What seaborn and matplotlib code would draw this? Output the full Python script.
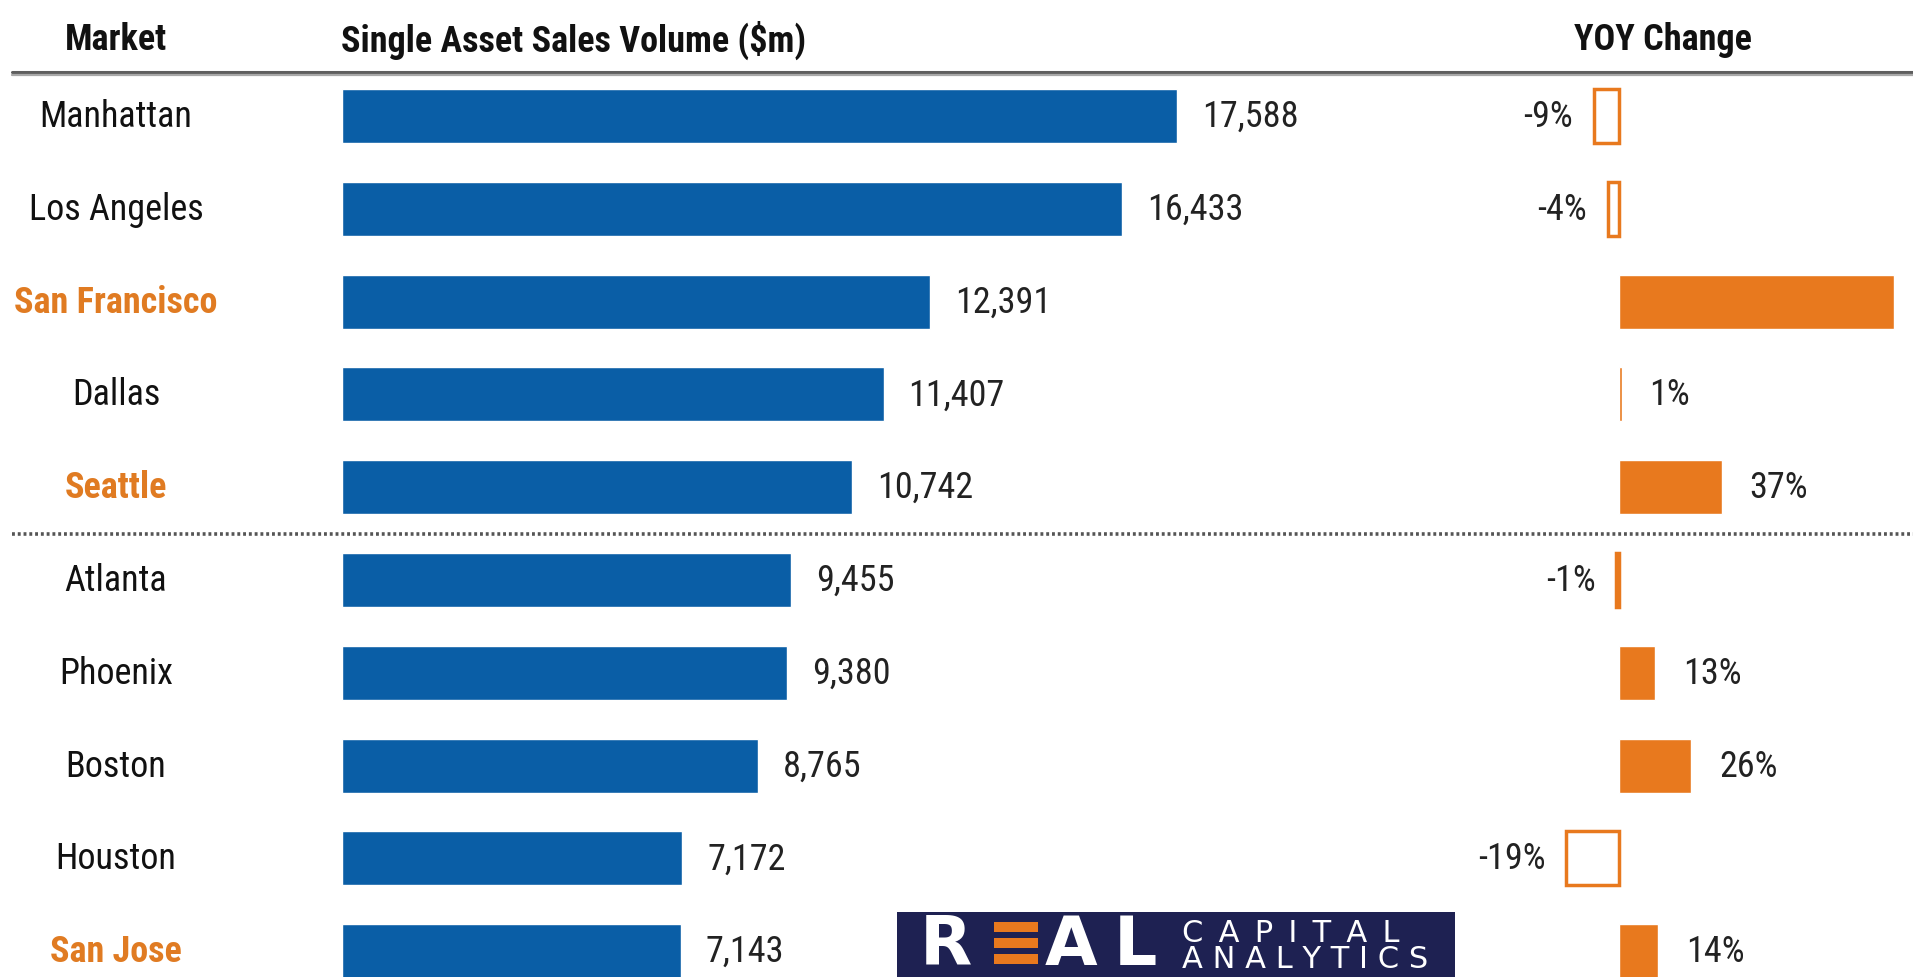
import numpy as np
import pandas as pd
import matplotlib
matplotlib.use("Agg")
import matplotlib.pyplot as plt
import matplotlib.transforms as mtransforms
from matplotlib.lines import Line2D
from matplotlib.patches import Rectangle
import seaborn as sns

# ---- data -------------------------------------------------------------
markets = ["Manhattan", "Los Angeles", "San Francisco", "Dallas", "Seattle",
           "Atlanta", "Phoenix", "Boston", "Houston", "San Jose"]
volume = [17588, 16433, 12391, 11407, 10742, 9455, 9380, 8765, 7172, 7143]
yoy = [-9, -4, 99, 1, 37, -1, 13, 26, -19, 14]
highlight = ["San Francisco", "Seattle", "San Jose"]
headers = ["Market", "Single Asset Sales Volume ($m)", "YOY Change"]

BLUE = "#0A5EA6"
ORANGE = "#E8791E"
ORANGE_TXT = "#E07B22"
NAVY = "#1E2152"

W, H = 1913, 978
sns.set_theme(style="white")
COND = ["Roboto Condensed", "DejaVu Sans"]
plt.rcParams["font.family"] = COND

df = pd.DataFrame({"market": markets, "volume": volume, "yoy": yoy})

fig = plt.figure(figsize=(W / 100, H / 100), dpi=100)
fig.patch.set_facecolor("white")


def fx(px):
    return px / W


def fy(py):
    return 1 - py / H


# row layout (pixel centre of first row and spacing)
row0, step = 117.0, 92.8
ylims = ((H - row0) / step, -row0 / step)
bar_h = 0.58
fs = 26

# ---- sales volume bars -----------------------------------------------
vol_left, vol_right = 341.6, 1450.0
px_per_unit = 0.04751
ax1 = fig.add_axes([fx(vol_left), 0, fx(vol_right - vol_left), 1])
sns.barplot(data=df, x="volume", y="market", order=markets, color=BLUE,
            saturation=1, width=bar_h, ax=ax1)
ax1.set_xlim(0, (vol_right - vol_left) / px_per_unit)
ax1.set_ylim(*ylims)
ax1.axis("off")
ax1.patch.set_alpha(0)
for i, v in enumerate(volume):
    ax1.annotate(f"{v:,}", xy=(v, i), xytext=(18, 0), textcoords="offset points",
                 ha="left", va="center", fontsize=fs, color="#222222")

# market names
trans = mtransforms.blended_transform_factory(fig.transFigure, ax1.transData)
for i, m in enumerate(markets):
    hl = m in highlight
    ax1.text(fx(116), i, m, transform=trans, ha="center", va="center",
             fontsize=fs, color=ORANGE_TXT if hl else "#111111",
             fontweight="bold" if hl else "normal")

# ---- YOY change bars -------------------------------------------------
yoy_left, yoy_zero, yoy_px = 1400.0, 1619.0, 2.78
ax2 = fig.add_axes([fx(yoy_left), 0, fx(W - yoy_left), 1])
sns.barplot(data=df, x="yoy", y="market", order=markets, color=ORANGE,
            saturation=1, width=bar_h, ax=ax2)
xmax = (W - yoy_zero) / yoy_px
ax2.set_xlim((yoy_left - yoy_zero) / yoy_px, xmax)
ax2.set_ylim(*ylims)
ax2.axis("off")
ax2.patch.set_alpha(0)
for bar, v in zip(ax2.patches, yoy):
    if v < 0:
        bar.set_facecolor("white")
        bar.set_edgecolor(ORANGE)
        bar.set_linewidth(2.5)
for i, v in enumerate(yoy):
    if v >= 0:
        # only label bars whose label fits inside the panel
        if v < xmax - 25:
            ax2.annotate(f"{v}%", xy=(v, i), xytext=(20, 0), textcoords="offset points",
                         ha="left", va="center", fontsize=fs, color="#222222")
    else:
        ax2.annotate(f"{v}%", xy=(v, i), xytext=(-15, 0), textcoords="offset points",
                     ha="right", va="center", fontsize=fs, color="#222222")

# ---- headers and rules -----------------------------------------------
hy = fy(40)
fig.text(fx(116), hy, headers[0], ha="center", va="center", fontsize=fs,
         fontweight="bold", color="#111111")
fig.text(fx(341), hy, headers[1], ha="left", va="center", fontsize=fs,
         fontweight="bold", color="#111111")
fig.text(fx(1663), hy, headers[2], ha="center", va="center", fontsize=fs,
         fontweight="bold", color="#111111")
fig.add_artist(Line2D([fx(12), 1], [fy(73), fy(73)], transform=fig.transFigure,
                      color="#5E5E5E", linewidth=2.2))
fig.add_artist(Line2D([fx(12), 1], [fy(75.5), fy(75.5)], transform=fig.transFigure,
                      color="#A8A8A8", linewidth=1.6))
sep_y = row0 + step * 4.5
fig.add_artist(Line2D([fx(12), 1], [fy(sep_y), fy(sep_y)], transform=fig.transFigure,
                      color="#555555", linewidth=2.6, linestyle=(0, (0.8, 0.8))))

# ---- logo ------------------------------------------------------------
fig.add_artist(Rectangle((fx(897), 0), fx(1455 - 897), fy(913), transform=fig.transFigure,
                         facecolor=NAVY, edgecolor="none", zorder=5))
logo_font = ["DejaVu Sans"]
for letter, x0 in (("R", 920), ("A", 1045), ("L", 1114)):
    fig.text(fx(x0), fy(946), letter, fontsize=49, color="white", family=logo_font,
             fontweight="bold", ha="left", va="center", zorder=6)
for top in (923, 939, 955):
    fig.add_artist(Rectangle((fx(994), fy(top + 10)), fx(44), 10 / H, transform=fig.transFigure,
                             facecolor=ORANGE, edgecolor="none", zorder=6))
fig.text(fx(1182), fy(934), "\u2002".join("CAPITAL"), fontsize=22, color="white",
         family=logo_font, ha="left", va="center", zorder=6)
fig.text(fx(1182), fy(960), " ".join("ANALYTICS"), fontsize=22, color="white",
         family=logo_font, ha="left", va="center", zorder=6)

fig.savefig("out.png", dpi=100, facecolor="white")
